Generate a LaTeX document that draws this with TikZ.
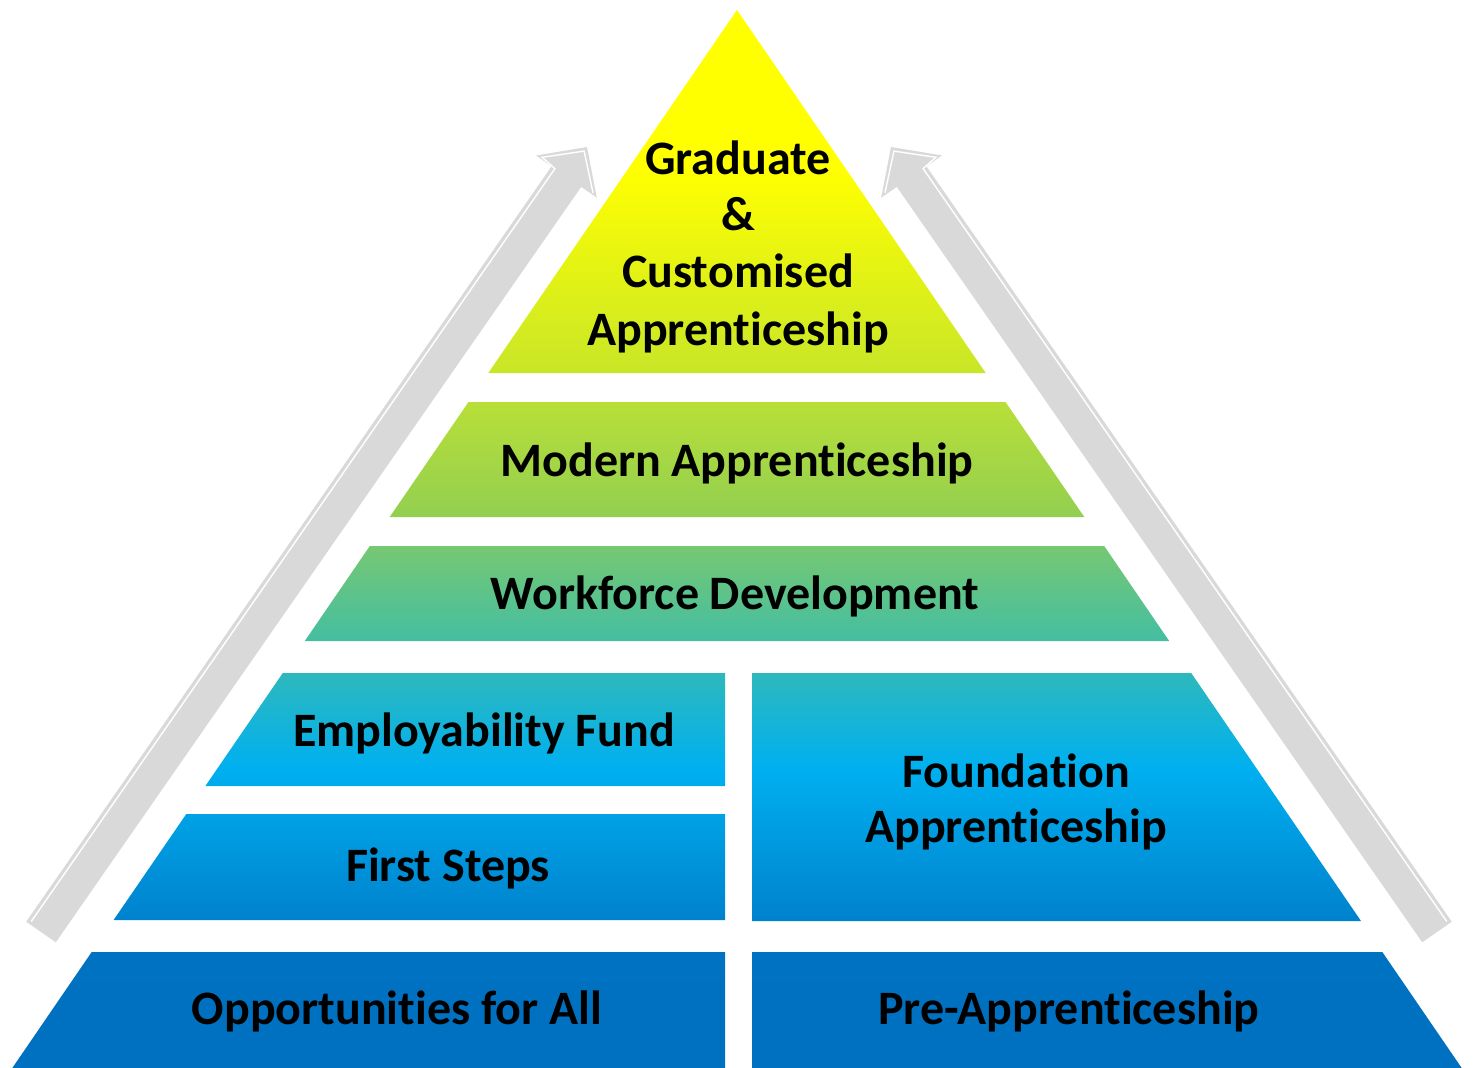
\documentclass[tikz,border=0pt]{standalone}
\usepackage{fontspec}
\setmainfont{Carlito}[Ligatures={NoCommon}]

% colour ramp of the pyramid, from the base up to the apex
\definecolor{rampA}{HTML}{0070C0}
\definecolor{rampB}{HTML}{0072C2}
\definecolor{rampC}{HTML}{0082CE}
\definecolor{rampD}{HTML}{00B0F0}
\definecolor{rampE}{HTML}{2EB8BC}
\definecolor{rampF}{HTML}{44BEA2}
\definecolor{rampG}{HTML}{76C872}
\definecolor{rampH}{HTML}{92CF50}
\definecolor{rampI}{HTML}{B8DF38}
\definecolor{rampJ}{HTML}{C8E628}
\definecolor{rampK}{HTML}{FFFF00}
\definecolor{arrowgrey}{HTML}{D9D9D9}

% the shaded path's bounding box maps onto 25bp..75bp
\pgfdeclareverticalshading{pyramidramp}{100bp}{%
  color(0bp)=(rampA); color(25bp)=(rampA); color(30.48bp)=(rampB);
  color(32bp)=(rampC); color(39.22bp)=(rampD); color(43.67bp)=(rampE);
  color(45.18bp)=(rampF); color(49.67bp)=(rampG); color(51.04bp)=(rampH);
  color(56.47bp)=(rampI); color(57.84bp)=(rampJ); color(67.44bp)=(rampK);
  color(75bp)=(rampK); color(100bp)=(rampK)}

\tikzset{
  lbl/.style={font=\fontsize{48}{56}\selectfont\bfseries, anchor=base,
    text=black, inner sep=0pt},
  arrowbody/.style={fill=arrowgrey, draw=none},
  arrowshine/.style={draw=white, line width=1.4pt, line join=miter},
  mirrored/.style={xshift=1478pt, xscale=-1},
  risearrow/.pic={
    \fill[arrowbody] (26.2,921.7) -- (551.6,166.3) -- (536.0,155.5)
      -- (587,147) -- (596.8,197.7) -- (581.2,186.9) -- (55.8,942.3) -- cycle;
    \draw[arrowshine] (31.2,921.5) -- (554.9,168.6) -- (542.1,157.3)
      -- (584.1,151.1) -- (593.0,192.7);
  }
}

\begin{document}
\begin{tikzpicture}[x=1pt, y=-1pt]
  \useasboundingbox (0,0) rectangle (1473,1068);

  % the tiers, shaded with one continuous ramp
  \begin{scope}
    \clip (737,10) -- (985.7,373) -- (488.3,373) -- cycle
          (468.5,402) -- (1005.5,402) -- (1084.3,517) -- (389.7,517) -- cycle
          (369.8,546) -- (1104.2,546) -- (1169.2,641) -- (304.8,641) -- cycle
          (282.8,673) -- (725,673) -- (725,786) -- (205.4,786) -- cycle
          (186.3,814) -- (725,814) -- (725,920) -- (113.6,920) -- cycle
          (752,673) -- (1191.2,673) -- (1361,921) -- (752,921) -- cycle
          (91.7,952) -- (725,952) -- (725,1068) -- (12.3,1068) -- cycle
          (752,952) -- (1382.3,952) -- (1461.7,1068) -- (752,1068) -- cycle;
    \shade[shading=pyramidramp] (0,10) rectangle (1473,1068);
  \end{scope}

  % rising arrows on both flanks
  \pic[transform shape] at (0,0) {risearrow};
  \begin{scope}[mirrored]
    \pic[transform shape] at (0,0) {risearrow};
  \end{scope}

  % labels
  \node[lbl] (grad1) at (738,174) {Graduate};
  \node[lbl] (grad2) at (738,230) {\&};
  \node[lbl] (grad3) at (738,287) {Customised};
  \node[lbl] (grad4) at (738,345) {Apprenticeship};
  \node[lbl] (modern) at (737,476) {Modern Apprenticeship};
  \node[lbl] (workforce) at (735,609) {Workforce Development};
  \node[lbl] (employ) at (484,746) {Employability Fund};
  \node[lbl] (first) at (448,881) {First Steps};
  \node[lbl] (found1) at (1016,787) {Foundation};
  \node[lbl] (found2) at (1016,842) {Apprenticeship};
  \node[lbl] (opps) at (397,1024) {Opportunities for All};
  \node[lbl] (preapp) at (1069,1024) {Pre-Apprenticeship};
\end{tikzpicture}
\end{document}
